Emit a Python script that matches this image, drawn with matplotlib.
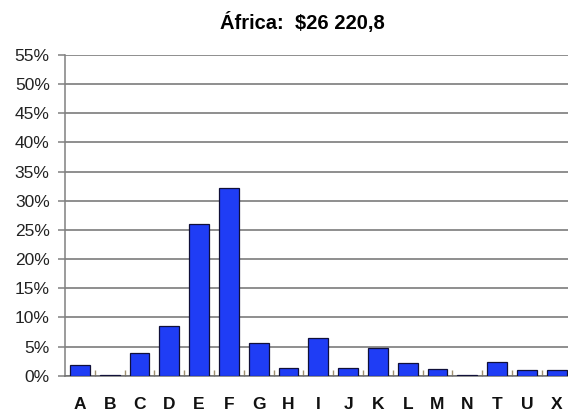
import matplotlib.pyplot as plt
from matplotlib.ticker import FixedLocator

plt.rcParams['font.family'] = ['Liberation Sans', 'DejaVu Sans']

# Participación por sector, África
categorias = ['A', 'B', 'C', 'D', 'E', 'F', 'G', 'H', 'I', 'J', 'K', 'L', 'M', 'N', 'T', 'U', 'X']
porcentajes = [1.8, 0.2, 3.9, 8.5, 26.1, 32.2, 5.6, 1.4, 6.4, 1.4, 4.8, 2.2, 1.1, 0.2, 2.3, 0.9, 0.9]
ticks_y = list(range(0, 56, 5))
titulo = 'África:  $26 220,8'

fig = plt.figure(figsize=(5.68, 4.17), dpi=100)
ax = fig.add_axes([65 / 568, 41.3 / 417, 506.6 / 568, 320.7 / 417])

x = range(len(categorias))
ax.bar(x, porcentajes, width=0.67, color='#1f3df5', edgecolor='#10103a', linewidth=0.9, zorder=3)

ax.set_xlim(-0.5, len(categorias) - 0.5)
ax.set_ylim(0, 55)
ax.set_yticks(ticks_y)
ax.set_yticklabels([f'{t}%' for t in ticks_y], fontsize=12.5, color='#222222')
ax.set_xticks(list(x))
ax.set_xticklabels(categorias, fontsize=12.5, fontweight='bold', color='#111111')

ax.grid(axis='y', color='#707070', linewidth=1.1, zorder=0)
ax.tick_params(axis='y', length=5, color='#808080', width=1.1, pad=6)
ax.tick_params(axis='x', which='major', length=0, pad=15)

# marcas cortas entre categorías
ax.xaxis.set_minor_locator(FixedLocator([i + 0.5 for i in range(len(categorias) - 1)]))
ax.tick_params(axis='x', which='minor', direction='in', length=4, color='#a09070', width=1)

for lado in ['top', 'right']:
    ax.spines[lado].set_visible(False)
ax.spines['left'].set_color('#808080')
ax.spines['bottom'].set_color('#707070')
ax.spines['left'].set_linewidth(1.1)
ax.spines['bottom'].set_linewidth(1.1)

fig.text(302 / 568, 1 - 23 / 417, titulo, ha='center', va='center', fontsize=14.5, fontweight='bold')

fig.savefig('out.png', dpi=100)
